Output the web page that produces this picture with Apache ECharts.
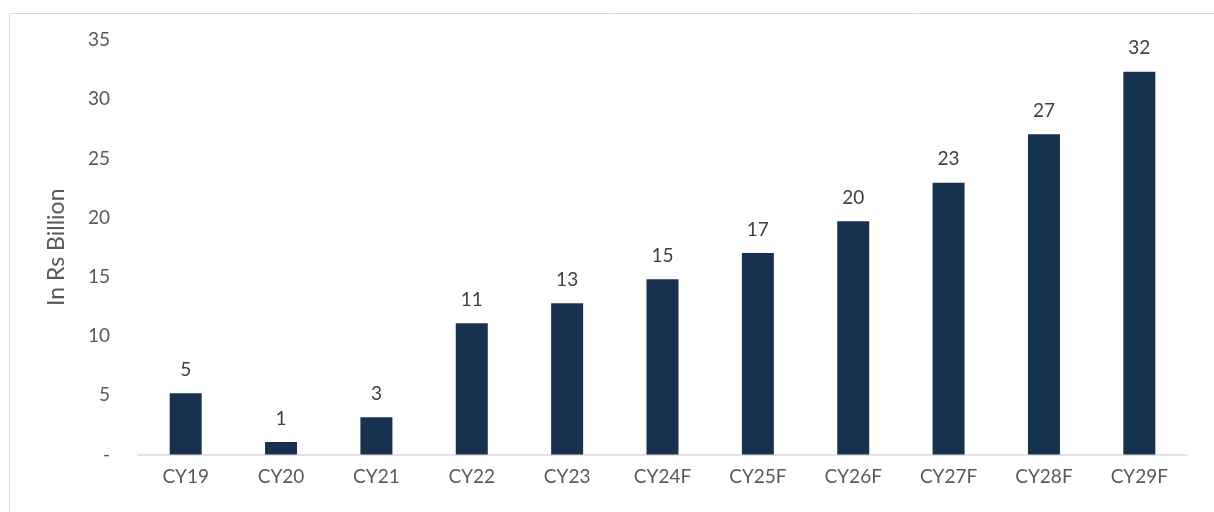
<!DOCTYPE html>
<html>
<head>
<meta charset="utf-8">
<script src="https://cdn.jsdelivr.net/npm/echarts@6/dist/echarts.min.js"></script>
<style>
  html, body { margin: 0; padding: 0; background: #ffffff; }
  #chart { width: 1214px; height: 512px; }
</style>
</head>
<body>
<div id="chart"></div>
<script>
// Calendar years (F = forecast)
const years = ['CY19', 'CY20', 'CY21', 'CY22', 'CY23', 'CY24F', 'CY25F', 'CY26F', 'CY27F', 'CY28F', 'CY29F'];
// Market size, Rs billion
const values = [5.17, 1.06, 3.14, 11.08, 12.77, 14.79, 17.01, 19.69, 22.95, 27.04, 32.32];
// Value axis range
const yMin = 0;
const yMax = 35;
const yStep = 5;

const chart = echarts.init(document.getElementById('chart'), null, { renderer: 'canvas' });
const font = 'Lato, "Open Sans", sans-serif';

chart.setOption({
  animation: false,
  backgroundColor: '#ffffff',
  graphic: [{
    type: 'rect',
    left: 7, top: 11,
    shape: { width: 1400, height: 700 },
    style: { fill: 'none', stroke: '#d9d9d9', lineWidth: 1 },
    silent: true
  }],
  grid: { left: 138, right: 27, top: 40, bottom: 57.5 },
  xAxis: {
    type: 'category',
    data: years,
    axisLine: { show: true, lineStyle: { color: '#d9d9d9', width: 1.5 } },
    axisTick: { show: false },
    axisLabel: { color: '#595959', fontSize: 19, fontFamily: font, margin: 13 }
  },
  yAxis: {
    type: 'value',
    min: yMin, max: yMax, interval: yStep,
    name: 'In Rs Billion',
    nameLocation: 'middle',
    nameGap: 70,
    nameTextStyle: { color: '#595959', fontSize: 23, fontFamily: font },
    axisLine: { show: false },
    axisTick: { show: false },
    splitLine: { show: false },
    axisLabel: {
      color: '#595959', fontSize: 19, fontFamily: font, margin: 28,
      formatter: v => (v === 0 ? '-' : String(v))
    }
  },
  series: [{
    type: 'bar',
    data: values,
    barWidth: 32,
    itemStyle: { color: '#17324f' },
    label: {
      show: true,
      position: 'top',
      distance: 14,
      color: '#404040',
      fontSize: 19,
      fontFamily: font,
      formatter: p => Math.round(p.value)
    }
  }]
});
</script>
</body>
</html>
